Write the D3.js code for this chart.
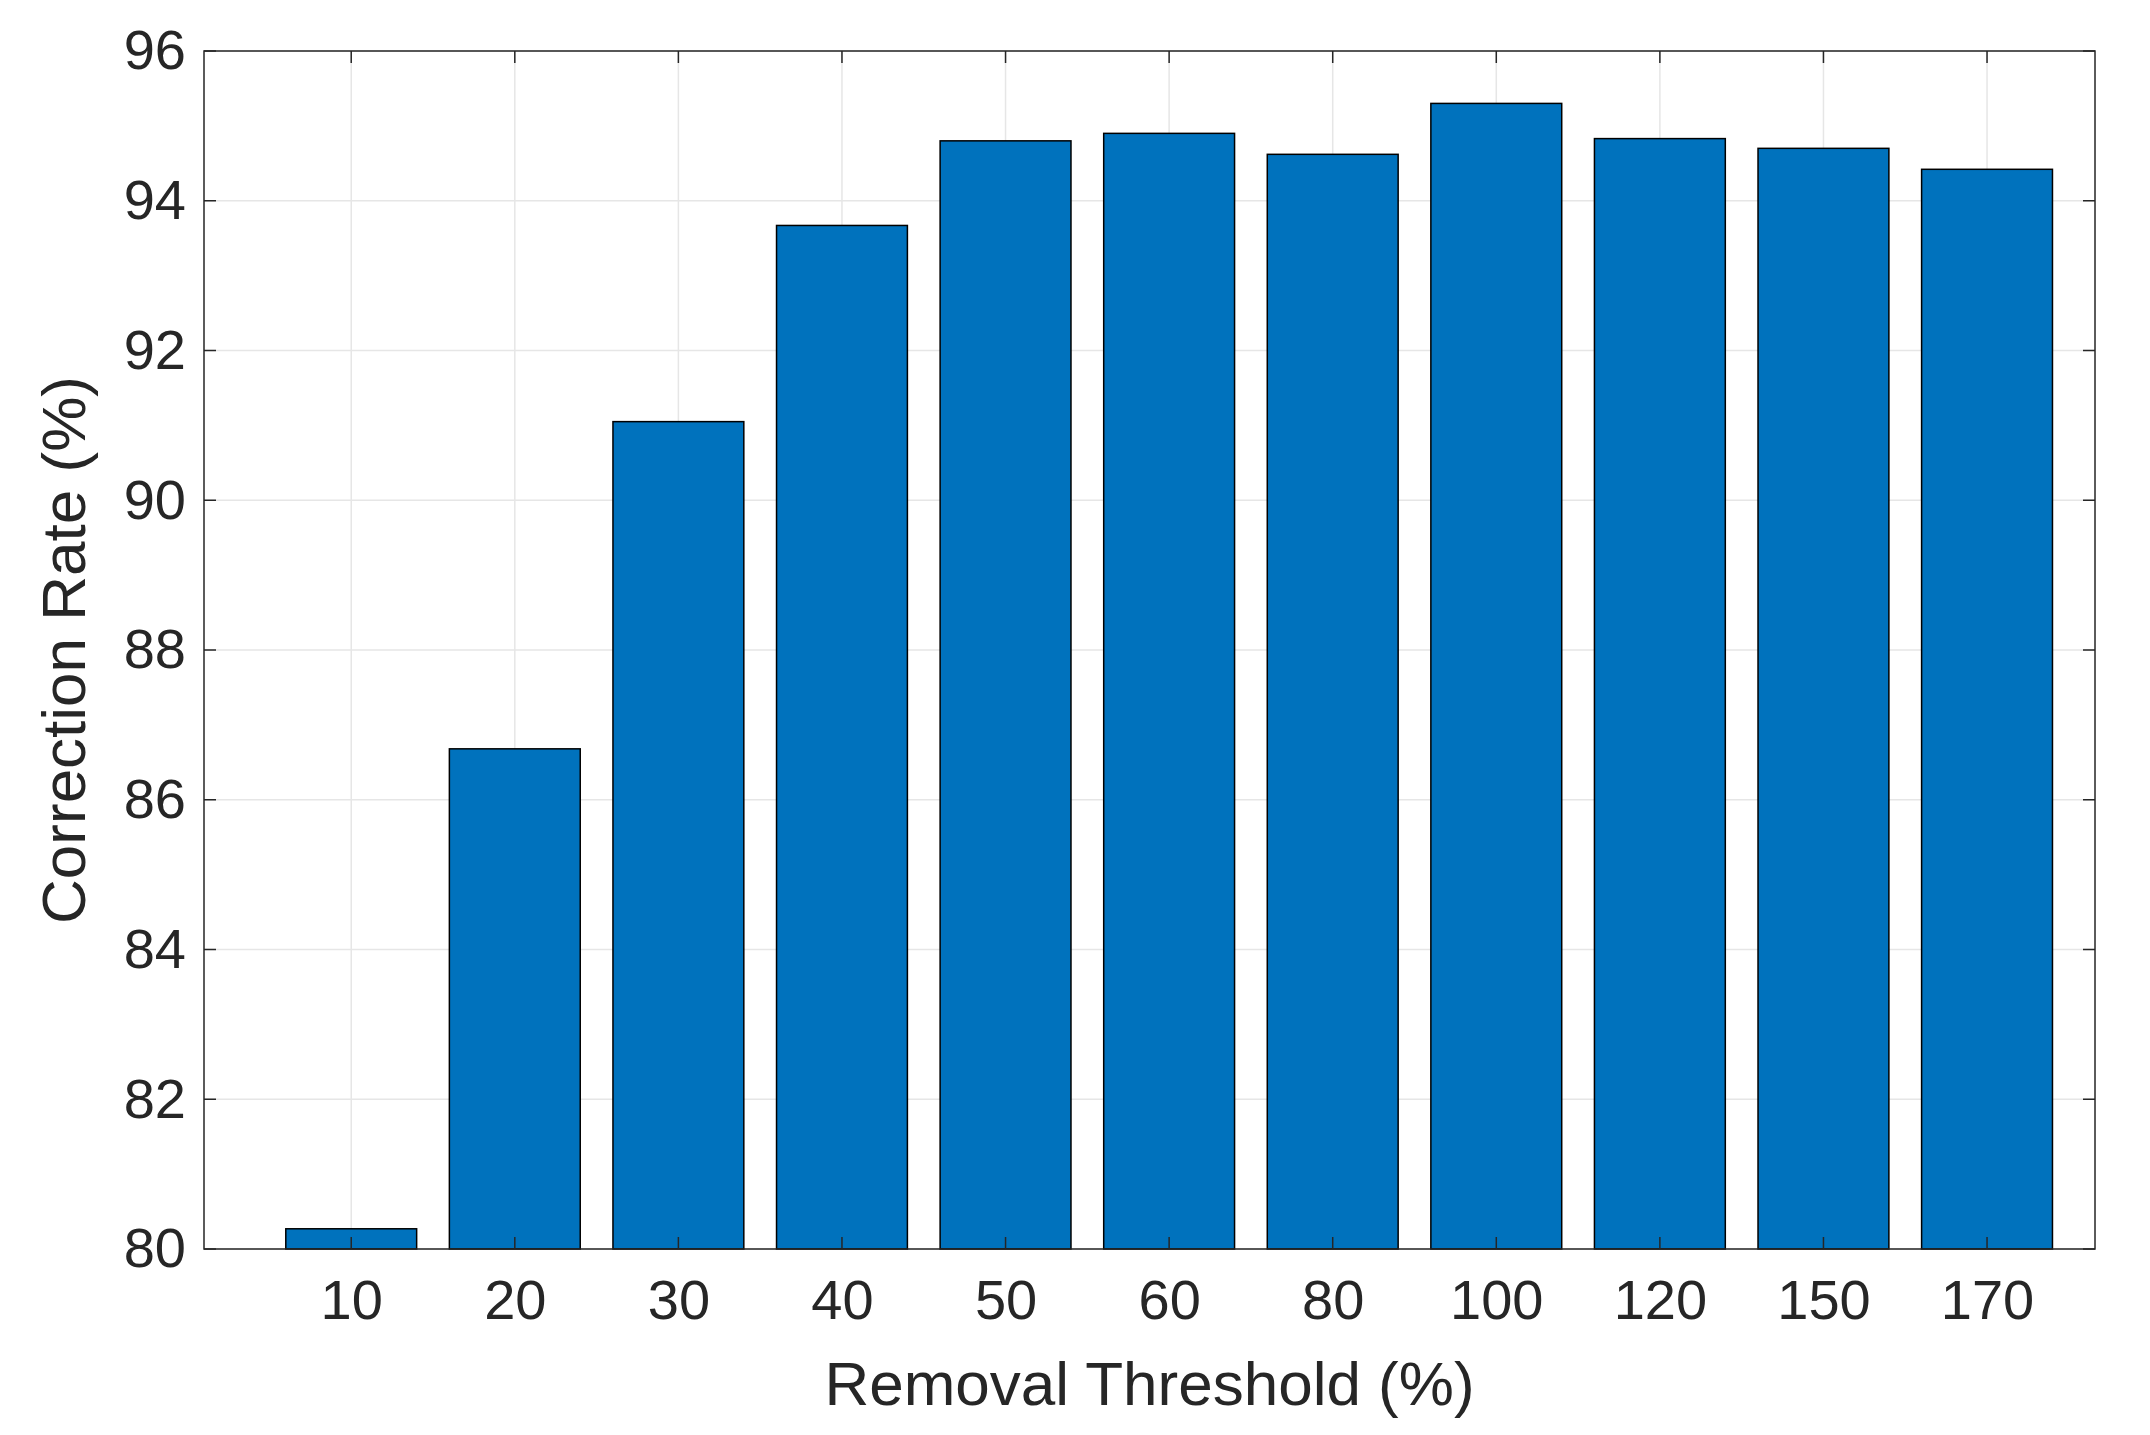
<!DOCTYPE html>
<html>
<head>
<meta charset="utf-8">
<script src="https://cdn.jsdelivr.net/npm/d3@7"></script>
<style>
  body { margin: 0; background: #fff; }
  text { font-family: Arial, "Liberation Sans", sans-serif; fill: #262626; }
</style>
</head>
<body>
<script>
const categories = ["10", "20", "30", "40", "50", "60", "80", "100", "120", "150", "170"];
const values = [80.27, 86.68, 91.05, 93.67, 94.80, 94.90, 94.62, 95.30, 94.83, 94.70, 94.42];
const yTicks = [80, 82, 84, 86, 88, 90, 92, 94, 96];

const width = 2150;
const height = 1435;
const margin = { top: 51, right: 55, bottom: 186, left: 204 };

const svg = d3.select("body").append("svg")
  .attr("width", width)
  .attr("height", height);

const x = d3.scaleLinear()
  .domain([0.1, 11.66])
  .range([margin.left, width - margin.right]);

const y = d3.scaleLinear()
  .domain([80, 96])
  .range([height - margin.bottom, margin.top]);

const step = x(2) - x(1);
const barW = step * 0.8;

// Grid
svg.append("g").selectAll("line.gy")
  .data(yTicks)
  .enter().append("line")
  .attr("x1", margin.left).attr("x2", width - margin.right)
  .attr("y1", d => y(d)).attr("y2", d => y(d))
  .attr("stroke", "#e6e6e6").attr("stroke-width", 1.5);

svg.append("g").selectAll("line.gx")
  .data(categories)
  .enter().append("line")
  .attr("x1", (d, i) => x(i + 1)).attr("x2", (d, i) => x(i + 1))
  .attr("y1", margin.top).attr("y2", height - margin.bottom)
  .attr("stroke", "#e6e6e6").attr("stroke-width", 1.5);

// Bars
svg.append("g").selectAll("rect")
  .data(values)
  .enter().append("rect")
  .attr("x", (d, i) => x(i + 1) - barW / 2)
  .attr("y", d => y(d))
  .attr("width", barW)
  .attr("height", d => y(80) - y(d))
  .attr("fill", "#0072BD")
  .attr("stroke", "#000")
  .attr("stroke-width", 1.5);

// Axes
const fs = 56;
const yAxis = svg.append("g")
  .attr("transform", `translate(${margin.left},0)`)
  .call(d3.axisLeft(y).tickValues(yTicks).tickSize(0).tickPadding(18));
yAxis.select(".domain").remove();
yAxis.selectAll("text").style("font-size", fs + "px").attr("fill", "#262626");

const xAxis = svg.append("g")
  .attr("transform", `translate(0,${height - margin.bottom})`)
  .call(d3.axisBottom(x).tickValues(d3.range(1, 12)).tickFormat((d) => categories[d - 1]).tickSize(0).tickPadding(30));
xAxis.select(".domain").remove();
xAxis.selectAll("text").style("font-size", fs + "px").attr("fill", "#262626");

// Inner tick marks (all four sides)
const tl = 12;
const tk = svg.append("g").attr("stroke", "#262626").attr("stroke-width", 1.5);
yTicks.forEach(v => {
  tk.append("line").attr("x1", margin.left).attr("x2", margin.left + tl).attr("y1", y(v)).attr("y2", y(v));
  tk.append("line").attr("x1", width - margin.right).attr("x2", width - margin.right - tl).attr("y1", y(v)).attr("y2", y(v));
});
d3.range(1, 12).forEach(v => {
  tk.append("line").attr("x1", x(v)).attr("x2", x(v)).attr("y1", height - margin.bottom).attr("y2", height - margin.bottom - tl);
  tk.append("line").attr("x1", x(v)).attr("x2", x(v)).attr("y1", margin.top).attr("y2", margin.top + tl);
});

// Box
svg.append("rect")
  .attr("x", margin.left).attr("y", margin.top)
  .attr("width", width - margin.left - margin.right)
  .attr("height", height - margin.top - margin.bottom)
  .attr("fill", "none").attr("stroke", "#262626").attr("stroke-width", 1.5);

// Labels
svg.append("text")
  .attr("x", (margin.left + width - margin.right) / 2)
  .attr("y", height - 30)
  .attr("text-anchor", "middle")
  .style("font-size", "62px")
  .text("Removal Threshold (%)");

svg.append("text")
  .attr("transform", `translate(85,${(margin.top + height - margin.bottom) / 2}) rotate(-90)`)
  .attr("text-anchor", "middle")
  .style("font-size", "62px")
  .text("Correction Rate (%)");
</script>
</body>
</html>
